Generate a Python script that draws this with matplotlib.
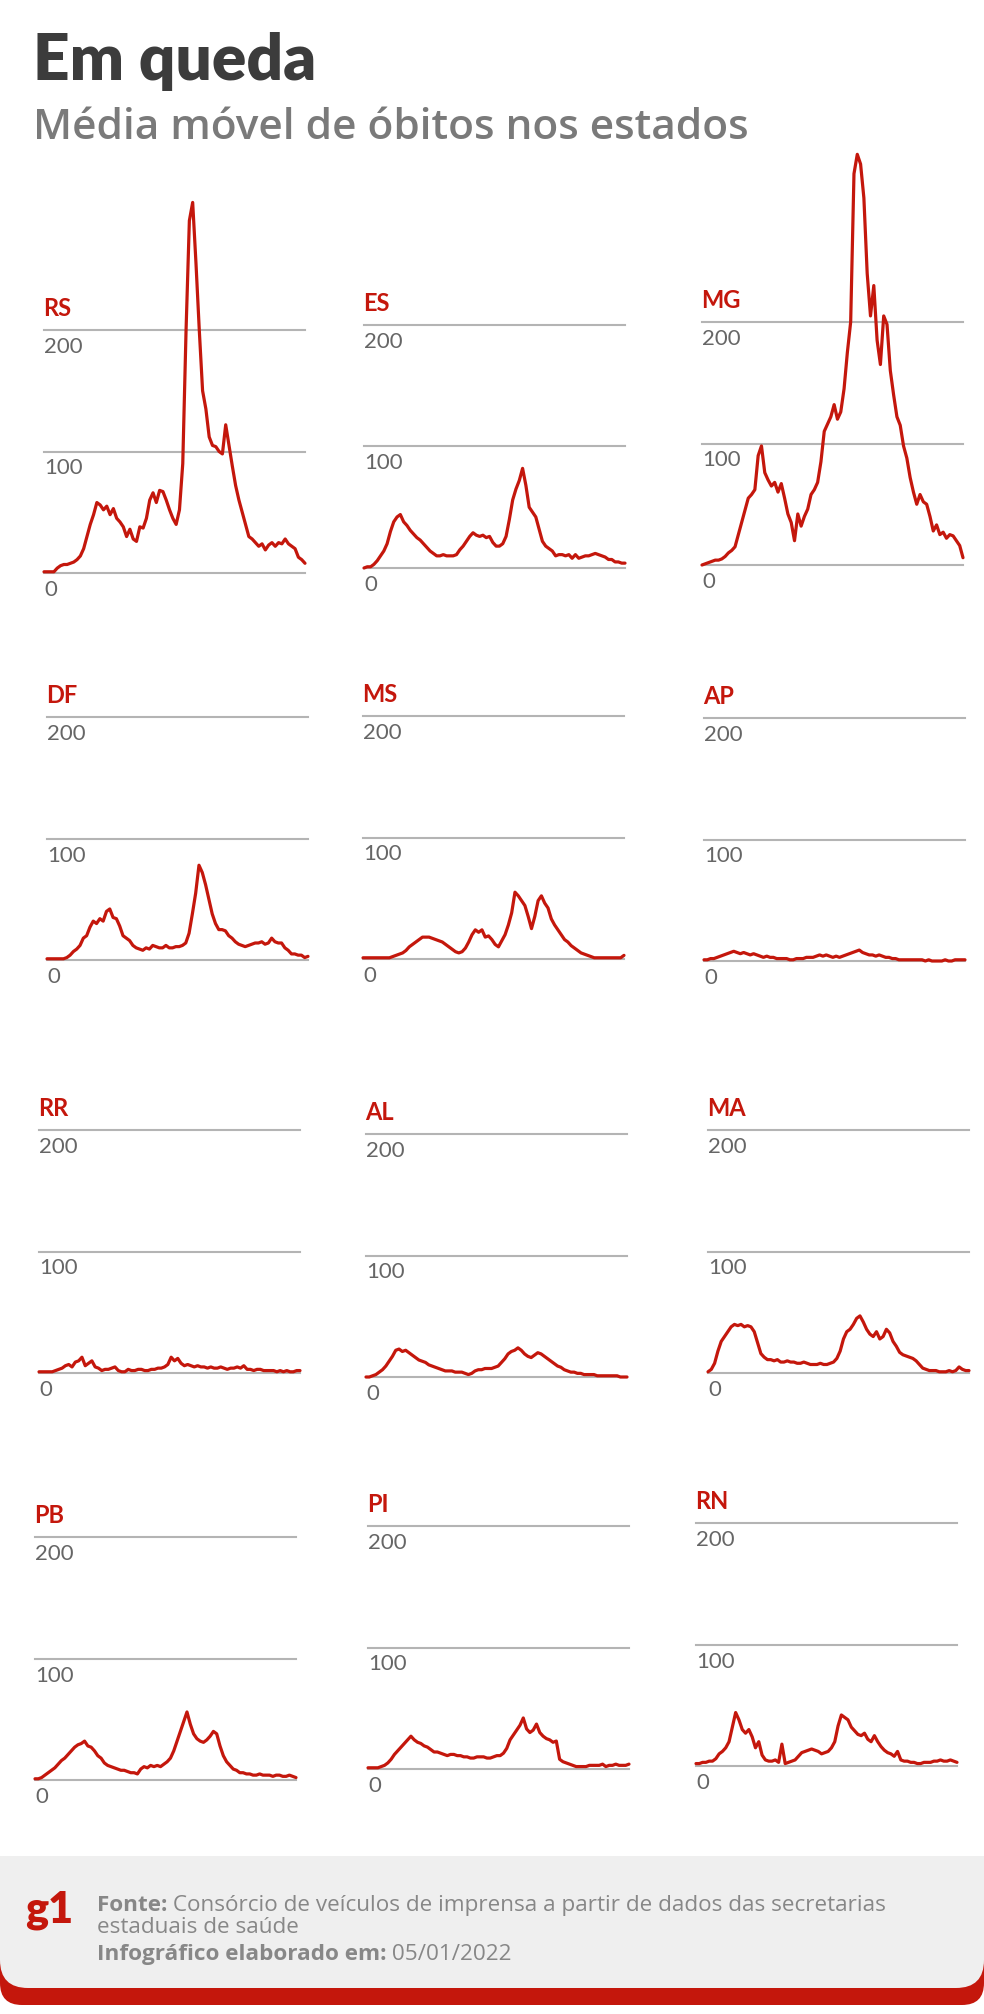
import matplotlib
matplotlib.use("Agg")
import matplotlib.pyplot as plt
from matplotlib.patches import FancyBboxPatch, Rectangle

# ---------------- data (moving average of deaths, ~weekly samples) ----------------
states = ["RS", "ES", "MG", "DF", "MS", "AP", "RR", "AL", "MA", "PB", "PI", "RN"]
ticks = [0, 100, 200]
tick_labels = ["0", "100", "200"]

rs = [1, 1, 1, 1, 4, 6, 7, 7, 8, 9, 11, 14, 20, 30, 40, 48, 58, 56, 52, 55,
      48, 53, 45, 42, 38, 30, 36, 28, 26, 38, 37, 45, 60, 66, 58, 68, 67, 60, 52, 45,
      40, 52, 90, 200, 290, 305, 255, 200, 150, 135, 112, 105, 104, 100, 98, 122, 105, 88, 72, 60,
      50, 40, 30, 28, 25, 22, 24, 19, 23, 25, 22, 25, 24, 28, 24, 22, 20, 13, 11, 8]
es = [0, 1, 1, 3, 6, 10, 14, 20, 30, 38, 42, 44, 38, 35, 31, 28, 25, 23, 20, 17,
      14, 12, 10, 10, 11, 10, 10, 10, 11, 15, 18, 22, 26, 29, 27, 26, 27, 25, 26, 21,
      18, 18, 20, 26, 40, 56, 65, 72, 82, 68, 50, 46, 42, 32, 22, 18, 16, 14, 10, 11,
      11, 10, 11, 8, 11, 8, 9, 10, 10, 11, 12, 11, 10, 9, 7, 7, 5, 5, 4, 4]
mg = [0, 1, 2, 3, 4, 4, 5, 7, 10, 12, 15, 25, 35, 45, 55, 58, 62, 90, 98, 76,
      70, 65, 68, 60, 67, 55, 42, 35, 20, 42, 32, 40, 46, 58, 62, 68, 85, 110, 116, 122,
      132, 120, 126, 145, 175, 200, 322, 338, 330, 302, 240, 205, 230, 185, 165, 205, 198, 160, 140, 122,
      115, 98, 88, 72, 60, 50, 58, 52, 50, 40, 28, 33, 25, 27, 22, 25, 24, 20, 16, 6]
df = [1, 1, 1, 1, 1, 1, 2, 4, 7, 9, 12, 18, 20, 27, 32, 30, 34, 32, 40, 42,
      35, 34, 28, 20, 18, 16, 12, 10, 9, 8, 10, 9, 12, 11, 10, 10, 12, 10, 10, 11,
      11, 12, 14, 22, 38, 55, 78, 72, 62, 50, 38, 30, 25, 25, 24, 20, 18, 15, 13, 12,
      11, 12, 13, 14, 14, 15, 13, 14, 18, 15, 14, 14, 10, 8, 5, 5, 4, 4, 2, 3]
ms = [1, 1, 1, 1, 1, 1, 1, 1, 1, 2, 3, 4, 5, 7, 10, 12, 14, 16, 18, 18,
      18, 17, 16, 15, 14, 12, 10, 8, 6, 5, 6, 9, 14, 20, 24, 22, 24, 18, 19, 16,
      12, 10, 15, 20, 28, 38, 55, 52, 48, 44, 35, 25, 35, 48, 52, 46, 42, 33, 28, 24,
      20, 16, 14, 11, 9, 7, 5, 4, 3, 2, 1, 1, 1, 1, 1, 1, 1, 1, 1, 3]
ap = [1, 1, 2, 2, 3, 4, 5, 6, 7, 8, 7, 6, 7, 6, 5, 6, 5, 4, 3, 4,
      3, 3, 2, 2, 2, 2, 1, 1, 2, 2, 2, 3, 3, 3, 4, 5, 4, 5, 4, 3,
      4, 3, 4, 5, 6, 7, 8, 9, 7, 6, 5, 5, 4, 5, 4, 3, 3, 2, 2, 1,
      1, 1, 1, 1, 1, 1, 1, 0, 1, 0, 0, 0, 0, 1, 0, 0, 1, 1, 1, 1]
rr = [1, 1, 1, 1, 1, 2, 3, 4, 6, 7, 5, 9, 10, 13, 6, 8, 10, 5, 4, 2,
      3, 3, 4, 5, 2, 1, 1, 3, 2, 2, 3, 3, 2, 2, 3, 3, 4, 4, 5, 7,
      13, 10, 12, 8, 6, 7, 6, 5, 6, 5, 5, 4, 5, 4, 4, 5, 4, 3, 4, 4,
      5, 4, 6, 3, 3, 2, 3, 3, 2, 2, 2, 2, 1, 2, 1, 2, 1, 1, 2, 2]
al = [0, 0, 1, 2, 4, 6, 9, 13, 17, 22, 23, 21, 22, 20, 18, 16, 14, 13, 12, 10,
      9, 8, 7, 6, 5, 5, 5, 4, 4, 4, 3, 2, 3, 5, 6, 6, 7, 7, 7, 8,
      9, 12, 15, 19, 21, 22, 24, 22, 19, 17, 16, 18, 20, 19, 17, 15, 13, 11, 9, 8,
      6, 5, 4, 4, 3, 3, 2, 2, 2, 2, 1, 1, 1, 1, 1, 1, 1, 0, 0, 0]
ma = [1, 3, 8, 18, 26, 30, 34, 38, 40, 39, 40, 38, 39, 38, 34, 25, 16, 13, 11, 11,
      10, 11, 9, 9, 10, 9, 9, 8, 8, 9, 8, 7, 7, 7, 8, 7, 7, 8, 9, 12,
      18, 28, 34, 36, 40, 45, 47, 42, 36, 32, 30, 34, 28, 30, 36, 33, 26, 22, 17, 15,
      14, 13, 12, 10, 7, 4, 3, 2, 2, 2, 1, 1, 1, 2, 1, 2, 5, 3, 2, 2]
pb = [1, 1, 2, 4, 6, 8, 10, 13, 16, 18, 21, 24, 27, 29, 30, 32, 28, 27, 24, 20,
      18, 14, 12, 11, 10, 9, 8, 8, 7, 6, 6, 5, 9, 11, 10, 12, 11, 12, 11, 13,
      15, 18, 24, 32, 40, 48, 56, 46, 38, 34, 32, 31, 33, 36, 40, 38, 28, 20, 15, 12,
      9, 8, 6, 6, 5, 5, 4, 4, 5, 4, 4, 4, 3, 4, 4, 3, 3, 4, 3, 2]
pi = [1, 1, 1, 1, 2, 3, 5, 8, 12, 15, 18, 21, 24, 27, 24, 22, 21, 19, 18, 16,
      14, 14, 13, 12, 11, 12, 12, 11, 11, 10, 10, 9, 9, 10, 10, 10, 9, 9, 10, 11,
      11, 13, 17, 24, 28, 32, 36, 42, 33, 30, 32, 37, 30, 27, 25, 24, 22, 23, 8, 6,
      5, 4, 3, 2, 2, 2, 2, 3, 3, 3, 3, 4, 2, 3, 3, 4, 3, 3, 3, 4]
rn = [2, 2, 3, 3, 4, 4, 6, 10, 12, 15, 20, 32, 44, 38, 30, 27, 30, 24, 15, 20,
      9, 5, 4, 4, 5, 3, 18, 2, 3, 4, 5, 8, 11, 12, 13, 14, 13, 12, 10, 11,
      12, 15, 20, 33, 42, 40, 38, 32, 29, 26, 25, 27, 22, 20, 25, 20, 16, 13, 11, 10,
      8, 12, 5, 4, 4, 3, 3, 2, 2, 3, 3, 3, 4, 4, 5, 4, 4, 5, 4, 3]

series = [rs, es, mg, df, ms, ap, rr, al, ma, pb, pi, rn]

title = "Em queda"
subtitle = "Média móvel de óbitos nos estados"
source_bold = "Fonte:"
source_text = " Consórcio de veículos de imprensa a partir de dados das secretarias"
source_text2 = "estaduais de saúde"
date_bold = "Infográfico elaborado em:"
date_text = " 05/01/2022"

# ---------------- layout (pixels) ----------------
W, H = 984, 2014
panel_pos = [(44, 573), (364, 568), (702, 565),
             (47, 960), (363, 959), (704, 961),
             (39, 1373), (366, 1377), (708, 1373),
             (35, 1780), (368, 1769), (696, 1766)]
PW = 261
U100 = 121.5
YMAX = 360

RED = "#c4170c"
GRID = "#b4b4b4"
TICKC = "#666666"
FOOTC = "#878787"
FONT = ["Lato", "DejaVu Sans"]
OPEN = ["Open Sans", "DejaVu Sans"]

plt.rcParams["font.family"] = FONT

fig = plt.figure(figsize=(W / 100, H / 100), dpi=100)
fig.patch.set_facecolor("white")

bg = fig.add_axes([0, 0, 1, 1])
bg.set_xlim(0, W)
bg.set_ylim(H, 0)
bg.axis("off")

bg.text(33, 80, title, fontsize=46, fontweight="heavy", color="#3c3c3c",
        va="baseline", ha="left")
bg.text(33, 139, subtitle, fontsize=30.5, fontweight="semibold", color="#7a7a7a",
        va="baseline", ha="left", family=OPEN)

# footer
bg.add_patch(FancyBboxPatch((0, 1900), W, 105, boxstyle="round,pad=0,rounding_size=22",
                            facecolor=RED, edgecolor="none", zorder=1))
bg.add_patch(FancyBboxPatch((0, 1856), W, 132, boxstyle="round,pad=0,rounding_size=28",
                            facecolor="#efefef", edgecolor="none", zorder=2))
bg.add_patch(Rectangle((0, 1856), W, 40, facecolor="#efefef", edgecolor="none", zorder=2))
bg.text(25, 1922, "g1", fontsize=31, fontweight="heavy", color=RED, va="baseline",
        ha="left", zorder=3)
FS = 16.2
t1 = bg.text(97, 1911, source_bold, fontsize=FS, fontweight="bold", color=FOOTC,
             va="baseline", ha="left", zorder=3, family=OPEN)
bg.annotate(source_text, xy=(1, 0), xycoords=t1, va="bottom", ha="left", fontsize=FS,
            fontweight="normal", color=FOOTC, zorder=3, family=OPEN)
bg.text(97, 1933, source_text2, fontsize=FS, fontweight="normal", color=FOOTC,
        va="baseline", ha="left", zorder=3, family=OPEN)
t3 = bg.text(97, 1960, date_bold, fontsize=FS, fontweight="bold", color=FOOTC,
             va="baseline", ha="left", zorder=3, family=OPEN)
bg.annotate(date_text, xy=(1, 0), xycoords=t3, va="bottom", ha="left", fontsize=FS,
            fontweight="normal", color=FOOTC, zorder=3, family=OPEN)

# panels
for name, vals, (x0, y0) in zip(states, series, panel_pos):
    hpx = U100 * YMAX / 100
    ax = fig.add_axes([x0 / W, 1 - y0 / H, PW / W, hpx / H])
    ax.patch.set_alpha(0)
    n = len(vals)
    ax.set_xlim(0, n - 1)
    ax.set_ylim(0, YMAX)
    ax.axis("off")
    for v, lab in zip(ticks, tick_labels):
        ax.axhline(v, color=GRID, lw=1.5, zorder=1, clip_on=False)
        ax.annotate(lab, xy=(0, v), xycoords=("axes fraction", "data"),
                    xytext=(0, -7), textcoords="offset pixels", va="top", ha="left",
                    fontsize=16, fontweight="normal", color=TICKC)
    ax.plot(range(n), vals, color=RED, lw=2.3, zorder=3, clip_on=False,
            solid_joinstyle="round", solid_capstyle="round")
    ax.annotate(name, xy=(0, 200), xycoords=("axes fraction", "data"),
                xytext=(-1, 14), textcoords="offset pixels", va="baseline", ha="left",
                fontsize=17, fontweight="bold", color=RED)

fig.savefig("out.png", dpi=100)
